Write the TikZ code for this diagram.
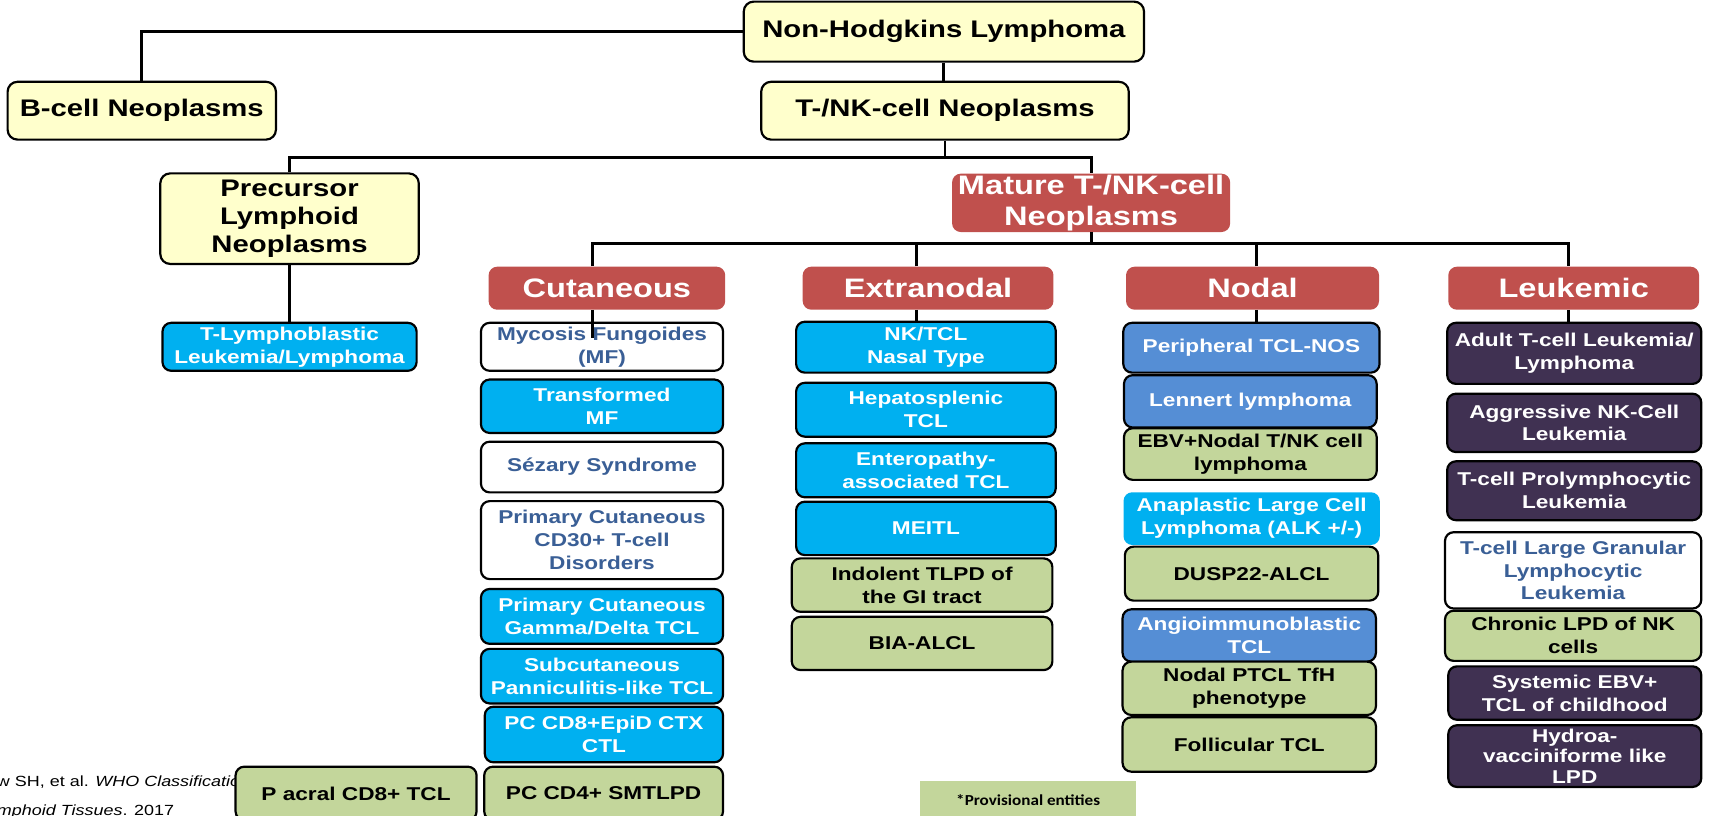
\documentclass[tikz,border=0pt]{standalone}
\usepackage{fontspec}
\usepackage{tikz}
\usetikzlibrary{positioning}
\newfontfamily\boxfont{Liberation Sans}[FakeStretch=1.22]
\newfontfamily\notefont{Carlito}[FakeStretch=1.12]
\definecolor{paleyellow}{HTML}{FFFFCC}
\definecolor{brick}{HTML}{C0504D}
\definecolor{skyblue}{HTML}{00B0F0}
\definecolor{steelblue}{HTML}{558ED5}
\definecolor{sage}{HTML}{C3D69B}
\definecolor{plum}{HTML}{403152}
\definecolor{slate}{HTML}{3A5F96}
\tikzstyle{conn} = [line width=2.7pt]
\tikzstyle{topbox} = [draw, line width=2pt, rounded corners=9pt, fill=paleyellow, align=center, inner sep=0pt, font=\boxfont\bfseries\fontsize{22}{26}\selectfont]
\tikzstyle{headbox} = [rounded corners=8pt, fill=brick, text=white, align=center, inner sep=0pt, font=\boxfont\bfseries\fontsize{24.5}{28}\selectfont]
\tikzstyle{leaf} = [draw, line width=2pt, rounded corners=8pt, align=center, inner sep=0pt, font=\boxfont\bfseries\fontsize{17}{21}\selectfont]
\tikzstyle{cyanleaf} = [leaf, fill=skyblue, text=white]
\tikzstyle{blueleaf} = [leaf, fill=steelblue, text=white]
\tikzstyle{greenleaf} = [leaf, fill=sage, text=black]
\tikzstyle{whiteleaf} = [leaf, fill=white, text=slate]
\tikzstyle{darkleaf} = [leaf, fill=plum, text=white]

\begin{document}
\begin{tikzpicture}[x=1pt, y=-1pt]
	\useasboundingbox (0,0) rectangle (1568,748);

	\node[topbox, minimum width=367pt, minimum height=55pt] (nhl) at (865.5,29) {Non-Hodgkins Lymphoma};
	\node[topbox, minimum width=246pt, minimum height=53pt] (bcell) at (130,101.5) {B-cell Neoplasms};
	\node[topbox, minimum width=337pt, minimum height=53pt] (tnk) at (866.5,101.5) {T-/NK-cell Neoplasms};
	\node[topbox, minimum width=237pt, minimum height=83pt] (precursor) at (265.5,200.5) {Precursor\\Lymphoid\\Neoplasms};
	\node[headbox, minimum width=255pt, minimum height=53.5pt] (mature) at (1000.5,186) {Mature T-/NK-cell\\Neoplasms};

	\node[headbox, minimum width=217pt, minimum height=39.5pt] (cut) at (556.5,264.25) {Cutaneous};
	\node[headbox, minimum width=230pt, minimum height=39.5pt] (extra) at (851,264.25) {Extranodal};
	\node[headbox, minimum width=232pt, minimum height=39.5pt] (nodal) at (1148.5,264.25) {Nodal};
	\node[headbox, minimum width=230pt, minimum height=39.5pt] (leuk) at (1443,264.25) {Leukemic};

	\node[cyanleaf, minimum width=233pt, minimum height=44pt] (tlb) at (265.5,318) {T-Lymphoblastic\\Leukemia/Lymphoma};

	% cutaneous
	\node[whiteleaf, minimum width=222pt, minimum height=44pt] (mf) at (552,318) {Mycosis Fungoides\\(MF)};
	\node[cyanleaf, minimum width=222pt, minimum height=49pt] (tmf) at (552,372.5) {Transformed\\MF};
	\node[whiteleaf, minimum width=222pt, minimum height=46.5pt] (sezary) at (552,428.25) {Sézary Syndrome};
	\node[whiteleaf, minimum width=222pt, minimum height=71.5pt] (pccd) at (552,495.25) {Primary Cutaneous\\CD30+ T-cell\\Disorders};
	\node[cyanleaf, minimum width=222pt, minimum height=50.3pt] (gd) at (552,565.2) {Primary Cutaneous\\Gamma/Delta TCL};
	\node[cyanleaf, minimum width=222pt, minimum height=50pt] (scpl) at (552,620) {Subcutaneous\\Panniculitis-like TCL};
	\node[cyanleaf, minimum width=218.5pt, minimum height=51pt] (cdeight) at (553.75,673.5) {PC CD8+EpiD CTX\\CTL};
	\node[greenleaf, minimum width=219pt, minimum height=49pt] (cdfour) at (553.5,727.5) {PC CD4+ SMTLPD};

	\node[anchor=west, align=left, inner sep=0pt, font=\boxfont\fontsize{13.5}{26}\selectfont] (cite) at (-3,731) {w SH, et al. \textit{WHO Classificatio}\\\textit{mphoid Tissues}. 2017};
	\node[greenleaf, minimum width=221pt, minimum height=49pt, left=5pt of cdfour] (pacral) {P acral CD8+ TCL};

	% extranodal
	\node[cyanleaf, minimum width=238pt, minimum height=46.7pt] (nktcl) at (849,318.35) {NK/TCL\\Nasal Type};
	\node[cyanleaf, minimum width=238pt, minimum height=49.4pt] (hstcl) at (849,375.7) {Hepatosplenic\\TCL};
	\node[cyanleaf, minimum width=238pt, minimum height=49.5pt] (eatl) at (849,431.25) {Enteropathy-\\associated TCL};
	\node[cyanleaf, minimum width=238pt, minimum height=49pt] (meitl) at (849,484.5) {MEITL};
	\node[greenleaf, minimum width=239pt, minimum height=49pt] (itlpd) at (845.5,536.5) {Indolent TLPD of\\the GI tract};
	\node[greenleaf, minimum width=239pt, minimum height=48.8pt] (bia) at (845.5,590) {BIA-ALCL};

	% nodal
	\node[blueleaf, minimum width=235pt, minimum height=45.7pt] (ptcl) at (1147.5,318.85) {Peripheral TCL-NOS};
	\node[blueleaf, minimum width=231.7pt, minimum height=48pt] (lennert) at (1146.5,368) {Lennert lymphoma};
	\node[greenleaf, minimum width=231.7pt, minimum height=47.3pt] (ebv) at (1146.5,416.35) {EBV+Nodal T/NK cell\\lymphoma};
	\node[cyanleaf, draw=none, minimum width=235pt, minimum height=48.3pt] (alcl) at (1147.7,475.55) {Anaplastic Large Cell\\Lymphoma (ALK +/-)};
	\node[greenleaf, minimum width=232.3pt, minimum height=49.5pt] (dusp) at (1147.6,526) {DUSP22-ALCL};
	\node[blueleaf, minimum width=232.3pt, minimum height=48pt] (aitl) at (1145.5,582.7) {Angioimmunoblastic\\TCL};
	\node[greenleaf, minimum width=232.3pt, minimum height=48.9pt] (tfh) at (1145.5,631.15) {Nodal PTCL TfH\\phenotype};
	\node[greenleaf, minimum width=232.3pt, minimum height=49.9pt] (ftcl) at (1145.5,682.65) {Follicular TCL};

	% leukemic
	\node[darkleaf, minimum width=233pt, minimum height=56pt] (atll) at (1443.5,324) {Adult T-cell Leukemia/\\Lymphoma};
	\node[darkleaf, minimum width=233pt, minimum height=53.5pt] (ankl) at (1443.5,387.75) {Aggressive NK-Cell\\Leukemia};
	\node[darkleaf, minimum width=233pt, minimum height=54pt] (tpll) at (1443.5,450) {T-cell Prolymphocytic\\Leukemia};
	\node[whiteleaf, minimum width=235pt, minimum height=70pt] (tlgl) at (1442.5,523) {T-cell Large Granular\\Lymphocytic\\Leukemia};
	\node[greenleaf, minimum width=235pt, minimum height=46pt] (clpd) at (1442.5,583) {Chronic LPD of NK\\cells};
	\node[darkleaf, minimum width=232pt, minimum height=49pt] (sebv) at (1444,635.5) {Systemic EBV+\\TCL of childhood};
	\node[darkleaf, minimum width=232pt, minimum height=56.6pt, font=\boxfont\bfseries\fontsize{17}{19}\selectfont] (hv) at (1444,693.3) {Hydroa-\\vacciniforme like\\LPD};

	\node[fill=sage, minimum width=198.4pt, minimum height=36pt, inner sep=0pt, font=\notefont\bfseries\fontsize{14}{16}\selectfont] (prov) at (942.8,734) {*Provisional entities};

	% connectors
	\draw[conn] (nhl.west) -| (bcell.north);
	\draw[conn] (nhl.south) -- (nhl.south |- tnk.north);
	\path (tnk.south) ++(0,15) coordinate (splitA);
	\draw[conn] (tnk.south) -- (splitA);
	\draw[conn] (precursor.north) |- (splitA) -| (mature.north);
	\draw[conn] (precursor.south) -- (tlb.north);

	\path (mature.south) ++(0,10.5) coordinate (splitB);
	\coordinate (cutT) at ([xshift=-13.5pt]cut.north);
	\coordinate (extraT) at ([xshift=-10.5pt]extra.north);
	\coordinate (nodalT) at ([xshift=3.5pt]nodal.north);
	\coordinate (leukT) at ([xshift=-4.5pt]leuk.north);
	\coordinate (cutB) at ([xshift=-13.5pt]cut.south);
	\coordinate (extraB) at ([xshift=-10.5pt]extra.south);
	\coordinate (nodalB) at ([xshift=3.5pt]nodal.south);
	\coordinate (leukB) at ([xshift=-4.5pt]leuk.south);
	\draw[conn] (mature.south) -- (splitB);
	\draw[conn] (cutT) |- (splitB) -| (leukT);
	\draw[conn] (extraT) -- (extraT |- splitB);
	\draw[conn] (nodalT) -- (nodalT |- splitB);
	\draw[conn] (cutB) -- ++(0,26);
	\draw[conn] (extraB) -- (extraB |- nktcl.north);
	\draw[conn] (nodalB) -- (nodalB |- ptcl.north);
	\draw[conn] (leukB) -- (leukB |- atll.north);

\end{tikzpicture}
\end{document}
